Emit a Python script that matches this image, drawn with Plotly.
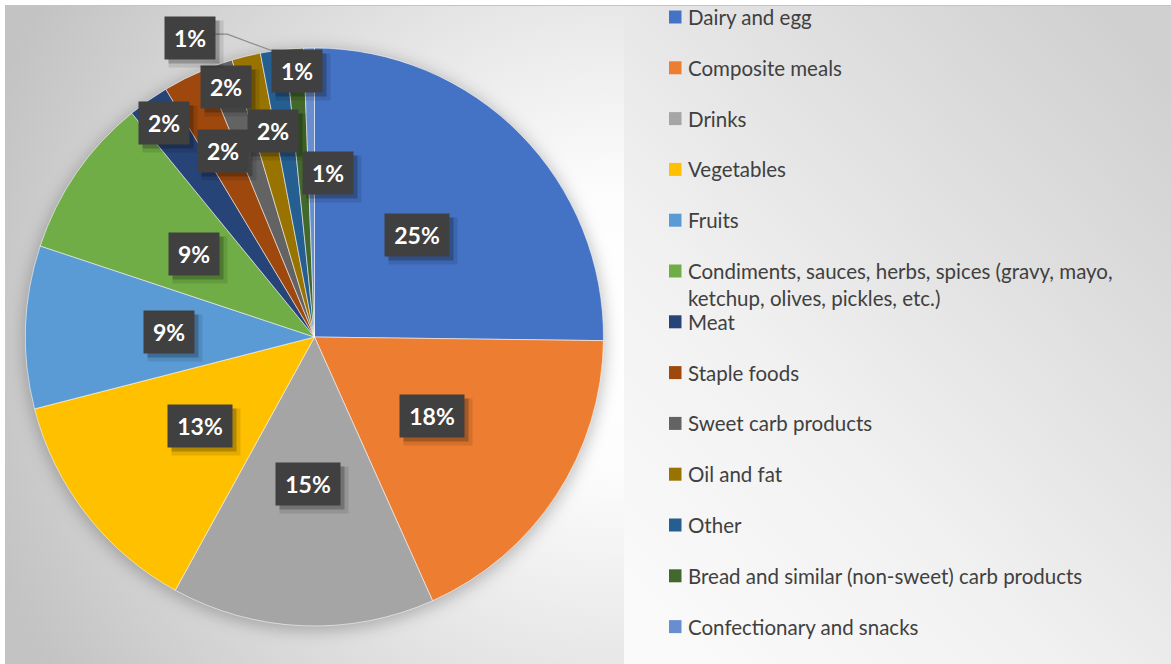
import base64
import math
import textwrap

import plotly.graph_objects as go

# Share of items by food group (percent)
categories = [
    "Dairy and egg",
    "Composite meals",
    "Drinks",
    "Vegetables",
    "Fruits",
    "Condiments, sauces, herbs, spices (gravy, mayo, ketchup, olives, pickles, etc.)",
    "Meat",
    "Staple foods",
    "Sweet carb products",
    "Oil and fat",
    "Other",
    "Bread and similar (non-sweet) carb products",
    "Confectionary and snacks",
]
shares = [25.2, 18.1, 14.7, 13.0, 9.1, 9.0, 2.3, 2.4, 1.6, 1.6, 1.4, 1.0, 0.6]
colors = [
    "#4472C4", "#ED7D31", "#A5A5A5", "#FFC000", "#5B9BD5", "#70AD47", "#264478",
    "#9E480E", "#636363", "#997300", "#255E91", "#43682B", "#698ED0",
]

# Data-label placement per slice: (fraction of radius, angular nudge in degrees)
label_place = [
    (0.50, 0), (0.49, 0.5), (0.51, 0), (0.50, 0), (0.505, 0), (0.505, 0),
    (0.907, 0), (0.717, 0.5), (0.916, 0), (0.726, 2.2), (1.12, -14.3),
    (0.921, 0.2), (0.571, 5.7),
]
leader_slices = [10]  # labels pulled outside get a connector line

W, H = 1171, 664
CX, CY, R = 314.5, 337.0, 289.0   # pie centre / radius in px
LEG_X, LEG_Y0, LEG_STEP = 669, 17.0, 50.8
FONT = "Lato"


def paper(x, y):
    return x / W, 1 - y / H


# ---- background: chart area, plot area and soft pie shadow -------------
svg = f"""<svg xmlns='http://www.w3.org/2000/svg' width='{W}' height='{H}' viewBox='0 0 {W} {H}'>
<defs>
<linearGradient id='ga' gradientUnits='userSpaceOnUse' x1='624' y1='600' x2='{W}' y2='80'>
<stop offset='0' stop-color='#fafafa'/><stop offset='0.35' stop-color='#f1f1f1'/>
<stop offset='1' stop-color='#d0d0d0'/></linearGradient>
<radialGradient id='gp' gradientUnits='userSpaceOnUse' cx='615' cy='330' r='660'>
<stop offset='0' stop-color='#ffffff'/><stop offset='0.2' stop-color='#fdfdfd'/>
<stop offset='1' stop-color='#c3c3c3'/></radialGradient>
<filter id='sh' x='-20%' y='-20%' width='140%' height='140%'>
<feGaussianBlur stdDeviation='8'/></filter>
</defs>
<rect width='{W}' height='{H}' fill='#ffffff'/>
<rect x='5' y='5' width='{W - 5}' height='{H - 5}' fill='url(#ga)'/>
<rect x='5' y='6' width='619' height='{H - 6}' fill='url(#gp)'/>
<line x1='5' y1='5.5' x2='{W}' y2='5.5' stroke='#c4c4c4' stroke-width='1'/>
<circle cx='{CX}' cy='{CY + 3}' r='{R + 2}' fill='#000000' fill-opacity='0.24' filter='url(#sh)'/>
</svg>"""
bg_uri = "data:image/svg+xml;base64," + base64.b64encode(svg.encode()).decode()

fig = go.Figure()
fig.add_trace(go.Pie(
    labels=categories,
    values=shares,
    sort=False,
    direction="clockwise",
    rotation=0,
    marker=dict(colors=colors, line=dict(color="rgba(255,255,255,0.55)", width=1)),
    textinfo="none",
    hovertemplate="%{label}<br>%{percent}<extra></extra>",
    showlegend=False,
    domain=dict(x=[(CX - R) / W, (CX + R) / W], y=[1 - (CY + R) / H, 1 - (CY - R) / H]),
))

annotations = []
shapes = []

# ---- data labels: dark boxes with drop shadow ---------------------------
total = sum(shares)
start = 0.0
for i, v in enumerate(shares):
    span = v / total * 360.0
    mid = start + span / 2
    frac, nudge = label_place[i]
    ang = math.radians(mid + nudge)
    lx = CX + frac * R * math.sin(ang)
    ly = CY - frac * R * math.cos(ang)
    txt = f"{round(v / total * 100)}%"
    bw = 64 if len(txt) > 2 else 50
    bh = 42
    px_, py_ = paper(lx, ly)
    for dx, dy, grow, alpha in [(6, -6, 4, 0.10), (4, -4, 0, 0.22)]:
        annotations.append(dict(
            x=px_, y=py_, xref="paper", yref="paper", xanchor="center", yanchor="middle",
            xshift=dx, yshift=dy, text="", showarrow=False,
            width=bw + grow, height=bh + grow, borderpad=0,
            bgcolor=f"rgba(0,0,0,{alpha})",
        ))
    annotations.append(dict(
        x=px_, y=py_, xref="paper", yref="paper", xanchor="center", yanchor="middle",
        text=f"<b>{txt}</b>", showarrow=False, width=bw, height=bh, borderpad=0,
        align="center", valign="middle", bgcolor="#404040",
        font=dict(family=FONT, size=23, color="#ffffff"),
    ))
    if i in leader_slices:
        ea = math.radians(mid)
        ex = CX + R * math.sin(ea)
        ey = CY - R * math.cos(ea)
        sx, sy = lx + bw / 2, ly - 4
        pts = [paper(sx, sy), paper(sx + 12, sy), paper(ex, ey)]
        path = "M " + " L ".join(f"{a:.5f},{b:.5f}" for a, b in pts)
        shapes.append(dict(type="path", path=path, xref="paper", yref="paper",
                           line=dict(color="#8c8c8c", width=1.2)))
    start += span

# ---- legend ------------------------------------------------------------
for i, (name, col) in enumerate(zip(categories, colors)):
    lines = textwrap.wrap(name, 47)
    yc = LEG_Y0 + i * LEG_STEP
    ty = yc + (len(lines) - 1) * 26 / 2
    tx, tyy = paper(LEG_X + 17, ty)
    annotations.append(dict(
        x=tx, y=tyy, xref="paper", yref="paper", xanchor="left", yanchor="middle",
        text="<br>".join(lines), showarrow=False, align="left",
        font=dict(family=FONT, size=20.5, color="#404040"),
    ))
    x0, y0 = paper(LEG_X, yc - 6.5)
    x1, y1 = paper(LEG_X + 12.5, yc + 6.5)
    shapes.append(dict(type="rect", xref="paper", yref="paper", x0=x0, x1=x1, y0=y1, y1=y0,
                       fillcolor=col, line=dict(width=0)))

fig.update_layout(
    width=W,
    height=H,
    margin=dict(l=0, r=0, t=0, b=0),
    paper_bgcolor="#ffffff",
    plot_bgcolor="#ffffff",
    images=[dict(source=bg_uri, xref="paper", yref="paper", x=0, y=1, sizex=1, sizey=1,
                 xanchor="left", yanchor="top", sizing="stretch", layer="below")],
    annotations=annotations,
    shapes=shapes,
    showlegend=False,
)

fig.write_html("out.html")
